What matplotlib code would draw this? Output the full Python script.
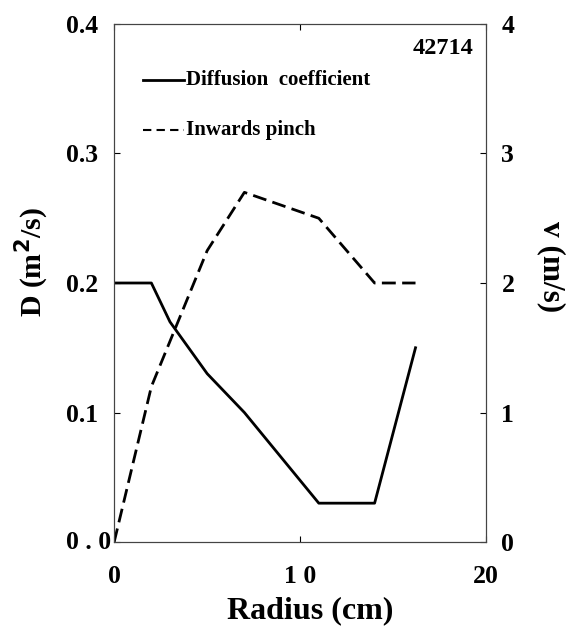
import matplotlib
matplotlib.use("Agg")
import matplotlib.pyplot as plt
import matplotlib.transforms as mtransforms

# Data
radius_d = [0, 2, 3, 5, 7, 11, 14, 16.2]
diffusion = [0.2, 0.2, 0.17, 0.13, 0.1, 0.03, 0.03, 0.15]

radius_v = [0, 2, 5, 7, 11, 14, 16.2]
pinch = [0, 1.2, 2.25, 2.7, 2.5, 2.0, 2.0]

d_ticks = [0, 0.1, 0.2, 0.3, 0.4]
d_labels = ["", "0.1", "0.2", "0.3", "0.4"]
r_ticks = [0, 10, 20]
r_labels = ["0", "1 0", "20"]
v_ticks = [0, 1, 2, 3, 4]
v_labels = ["0", "1", "2", "3", "4"]

plt.rcParams['font.family'] = ['Liberation Serif', 'DejaVu Serif']
plt.rcParams['font.weight'] = 'bold'

fig = plt.figure(figsize=(5.68, 6.31), dpi=100)
ax = fig.add_axes([0.201, 0.141, 0.655, 0.821])
ax2 = ax.twinx()

ax.plot(radius_d, diffusion, color='black', lw=2)
ax2.plot(radius_v, pinch, color='black', lw=2, dashes=(5, 2.3))

ax.set_xlim(0, 20)
ax.set_ylim(0, 0.4)
ax2.set_ylim(0, 4)

ax.set_xticks(r_ticks, r_labels, fontsize=18.5, fontweight='bold')
ax.set_yticks(d_ticks, d_labels, fontsize=18.5, fontweight='bold')
ax2.set_yticks(v_ticks, v_labels, fontsize=18.5, fontweight='bold')

ax.tick_params(axis='both', direction='in', length=4, width=0.8,
               top=True, right=False)
ax.tick_params(axis='x', pad=16.5)
ax.tick_params(axis='y', pad=11.5)
ax2.tick_params(axis='y', direction='in', length=4, width=0.8, pad=11)

# the odd "0 . 0" label sits closer to the axis than the others
trans = mtransforms.blended_transform_factory(ax.transAxes, ax.transData)
ax.text(-0.008, 0, "0 . 0", transform=trans, fontsize=18.5,
        fontweight='bold', ha='right', va='center')

for a in (ax, ax2):
    for s in a.spines.values():
        s.set_linewidth(0.8)
        s.set_color('#444444')

ax.set_xlabel("Radius (cm)", fontsize=23, fontweight='bold')
ax.xaxis.set_label_coords(0.528, -0.104)
ax.set_ylabel("D (m$^\\mathbf{2}$/s)", fontsize=21.5, fontweight='bold')
ax.yaxis.set_label_coords(-0.171, 0.54)
ax2.set_ylabel("v (m/s)", fontsize=22.5, fontweight='bold', rotation=270)
ax2.yaxis.set_label_coords(1.215, 0.531)

# Hand-drawn style legend and shot number
ax.plot([0.078, 0.188], [0.892, 0.892], transform=ax.transAxes,
        color='black', lw=2)
ax.text(0.192, 0.892, "Diffusion  coefficient", transform=ax.transAxes,
        fontsize=15, fontweight='bold', va='center', ha='left')
ax.plot([0.078, 0.188], [0.795, 0.795], transform=ax.transAxes,
        color='black', lw=1.5, dashes=(4, 2.5))
ax.text(0.192, 0.795, "Inwards pinch", transform=ax.transAxes,
        fontsize=15, fontweight='bold', va='center', ha='left')
ax.text(0.967, 0.953, "42714", transform=ax.transAxes, fontsize=17.5,
        fontweight='bold', va='center', ha='right')

fig.savefig("out.png", dpi=100)
